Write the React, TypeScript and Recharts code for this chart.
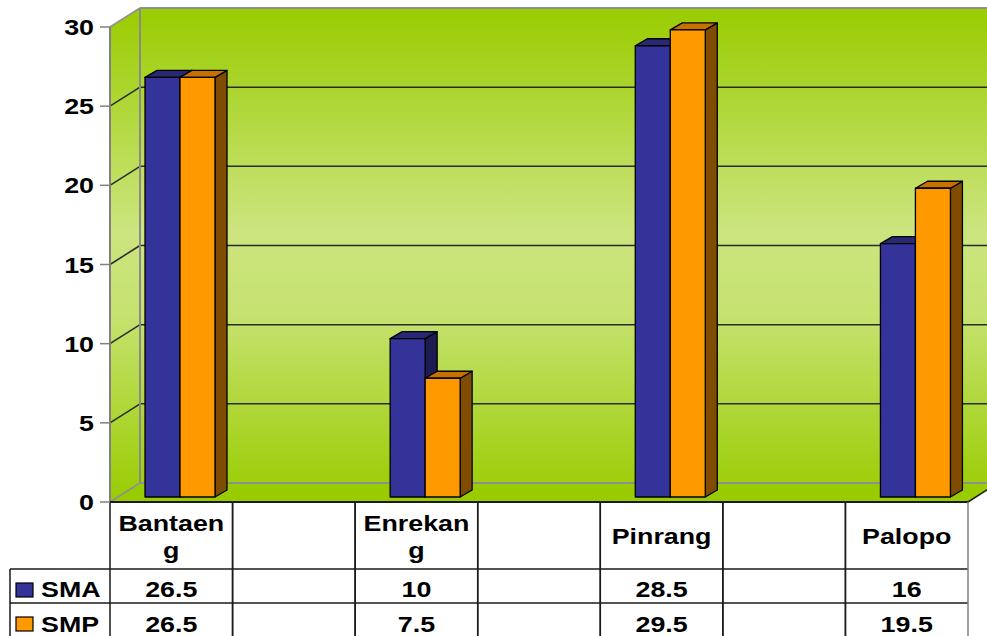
import React from "react";
import { Bar, BarChart, Customized, XAxis, YAxis } from "recharts";

const categories = ["Bantaeng", "", "Enrekang", "", "Pinrang", "", "Palopo"];
const smaValues = [26.5, null, 10, null, 28.5, null, 16];
const smpValues = [26.5, null, 7.5, null, 29.5, null, 19.5];
const yTicks = [0, 5, 10, 15, 20, 25, 30];
const seriesNames = ["SMA", "SMP"];

const data = categories.map((name, i) => ({
  name,
  SMA: smaValues[i],
  SMP: smpValues[i],
}));

const W = 987;
const H = 636;
const LEFT = 110;
const TOP = 27;
const RIGHT = 968;
const BOTTOM = 502;
const Y_MAX = 30;
// depth of the walls and of the bars
const DX = 30;
const DY = -19;
const BDX = 12;
const BDY = -7;
const SHIFT_X = 9;
const SHIFT_Y = -5;

const FONT = '"Liberation Sans", Arial, sans-serif';
const LINE = "#1a1a1a";

function Txt({ x, y, anchor, children }: { x: number; y: number; anchor: string; children: React.ReactNode }) {
  return (
    <g transform={`translate(${x},${y}) scale(1.22,1)`}>
      <text textAnchor={anchor as any} fontFamily={FONT} fontWeight={700} fontSize={22} fill="#000">
        {children}
      </text>
    </g>
  );
}

function bar3d(front: string, top: string, side: string) {
  return (props: any) => {
    const { x, y, width, height } = props;
    if (!isFinite(x) || !isFinite(y) || !isFinite(height) || height <= 0) return <g />;
    const fx = x + SHIFT_X;
    const fy = y + SHIFT_Y;
    const w = width;
    const h = height;
    return (
      <g stroke="#000" strokeWidth={1.3} strokeLinejoin="round">
        <polygon
          points={`${fx + w},${fy} ${fx + w + BDX},${fy + BDY} ${fx + w + BDX},${fy + h + BDY} ${fx + w},${fy + h}`}
          fill={side}
        />
        <polygon
          points={`${fx},${fy} ${fx + BDX},${fy + BDY} ${fx + w + BDX},${fy + BDY} ${fx + w},${fy}`}
          fill={top}
        />
        <rect x={fx} y={fy} width={w} height={h} fill={front} />
      </g>
    );
  };
}

// wall position of a value on the front plane (same layout as the chart margins)
const wallY = (v: number) => BOTTOM - (v / Y_MAX) * (BOTTOM - TOP);

function Walls() {
  return (
    <g>
      <defs>
        <linearGradient id="wallGrad" x1="0" y1={TOP + DY} x2="0" y2={BOTTOM} gradientUnits="userSpaceOnUse">
          <stop offset="0" stopColor="#99CC00" />
          <stop offset="0.45" stopColor="#CCE57F" />
          <stop offset="0.62" stopColor="#C6E270" />
          <stop offset="1" stopColor="#99CC00" />
        </linearGradient>
      </defs>
      <rect x={LEFT + DX} y={TOP + DY} width={RIGHT - LEFT} height={BOTTOM - TOP} fill="url(#wallGrad)" />
      <polygon
        points={`${LEFT},${BOTTOM} ${LEFT},${TOP} ${LEFT + DX},${TOP + DY} ${LEFT + DX},${BOTTOM + DY}`}
        fill="url(#wallGrad)"
      />
      <polygon
        points={`${LEFT},${BOTTOM} ${LEFT + DX},${BOTTOM + DY} ${RIGHT + DX},${BOTTOM + DY} ${RIGHT},${BOTTOM}`}
        fill="#99CC00"
      />
      {yTicks.map((v) => {
        const y = wallY(v);
        const edge = v === 0 || v === Y_MAX;
        const color = edge ? "#8f8f8f" : "#2a2a2a";
        return (
          <g key={v}>
            <line x1={LEFT} y1={y} x2={LEFT + DX} y2={y + DY} stroke={color} strokeWidth={1.5} />
            <line x1={LEFT + DX} y1={y + DY} x2={RIGHT + DX} y2={y + DY} stroke={color} strokeWidth={edge ? 2 : 1.5} />
          </g>
        );
      })}
      <line x1={LEFT + DX} y1={TOP + DY} x2={LEFT + DX} y2={BOTTOM + DY} stroke="#8a8a8a" strokeWidth={2} />
      <line x1={LEFT} y1={TOP} x2={LEFT} y2={BOTTOM} stroke="#808080" strokeWidth={2} />
      <line x1={RIGHT} y1={BOTTOM} x2={RIGHT + DX} y2={BOTTOM + DY} stroke={LINE} strokeWidth={1.5} />
    </g>
  );
}

function YTick(p: any) {
  return (
    <g>
      <line x1={p.x + 6} y1={p.y} x2={p.x + 16} y2={p.y} stroke="#808080" strokeWidth={1.5} />
      <Txt x={p.x} y={p.y + 8} anchor="end">{p.payload.value}</Txt>
    </g>
  );
}

function TableTick(p: any) {
  const { x, y, payload } = p;
  const half = payload && payload.offset > 0 ? payload.offset : (RIGHT - LEFT) / categories.length / 2;
  const i = payload && payload.index != null ? payload.index : p.index;
  const name = categories[i] || "";
  const lines = name.length > 7 ? [name.slice(0, 7), name.slice(7)] : name ? [name] : [];
  const x0 = x - half;
  const x1 = x + half;
  const r1 = y + 67;
  const r2 = y + 101;
  const end = y + 150;
  const last = i === categories.length - 1;
  const sma = smaValues[i];
  const smp = smpValues[i];
  return (
    <g>
      <line x1={x0} y1={y} x2={x1} y2={y} stroke={LINE} strokeWidth={2} />
      <line x1={x0} y1={r1} x2={x1} y2={r1} stroke={LINE} strokeWidth={1.5} />
      <line x1={x0} y1={r2} x2={x1} y2={r2} stroke={LINE} strokeWidth={1.5} />
      <line x1={x0} y1={y} x2={x0} y2={end} stroke={LINE} strokeWidth={1.5} />
      <line x1={x1} y1={y} x2={x1} y2={end} stroke={last ? "#808080" : LINE} strokeWidth={1.5} />
      {lines.length === 2 ? (
        <>
          <Txt x={x} y={y + 29} anchor="middle">{lines[0]}</Txt>
          <Txt x={x} y={y + 56} anchor="middle">{lines[1]}</Txt>
        </>
      ) : lines.length === 1 ? (
        <Txt x={x} y={y + 42} anchor="middle">{lines[0]}</Txt>
      ) : null}
      {sma != null && <Txt x={x} y={r1 + 28} anchor="middle">{sma}</Txt>}
      {smp != null && <Txt x={x} y={r2 + 29} anchor="middle">{smp}</Txt>}
      {i === 0 && (
        <g>
          <line x1={x0 - 100} y1={r1} x2={x0} y2={r1} stroke={LINE} strokeWidth={1.5} />
          <line x1={x0 - 100} y1={r2} x2={x0} y2={r2} stroke={LINE} strokeWidth={1.5} />
          <line x1={x0 - 100} y1={r1} x2={x0 - 100} y2={end} stroke={LINE} strokeWidth={1.5} />
          <rect x={x0 - 94} y={r1 + 14} width={17} height={14} fill="#333399" stroke="#000" strokeWidth={1.2} />
          <rect x={x0 - 94} y={r2 + 14} width={17} height={14} fill="#FF9900" stroke="#000" strokeWidth={1.2} />
          <Txt x={x0 - 69} y={r1 + 28} anchor="start">{seriesNames[0]}</Txt>
          <Txt x={x0 - 69} y={r2 + 29} anchor="start">{seriesNames[1]}</Txt>
        </g>
      )}
    </g>
  );
}

export default function App() {
  return (
    <div style={{ position: "absolute", left: 0, top: 0, width: W, height: H, background: "#fff", overflow: "hidden" }}>
      <BarChart
        width={W}
        height={H}
        data={data}
        margin={{ top: TOP, right: W - RIGHT, bottom: 0, left: 0 }}
        barGap={0}
      >
        <Customized component={Walls} />
        <XAxis
          dataKey="name"
          height={H - BOTTOM}
          interval={0}
          axisLine={false}
          tickLine={false}
          tickSize={0}
          tickMargin={0}
          tick={TableTick}
        />
        <YAxis
          width={LEFT}
          domain={[0, Y_MAX]}
          ticks={yTicks}
          interval={0}
          tickSize={10}
          tickMargin={6}
          axisLine={false}
          tickLine={{ stroke: "none" }}
          tick={YTick}
        />
        <Bar dataKey="SMA" barSize={35} fill="#333399" isAnimationActive={false} shape={bar3d("#333399", "#282873", "#1c1c50")} />
        <Bar dataKey="SMP" barSize={35} fill="#FF9900" isAnimationActive={false} shape={bar3d("#FF9900", "#C87000", "#7F4C00")} />
      </BarChart>
    </div>
  );
}
